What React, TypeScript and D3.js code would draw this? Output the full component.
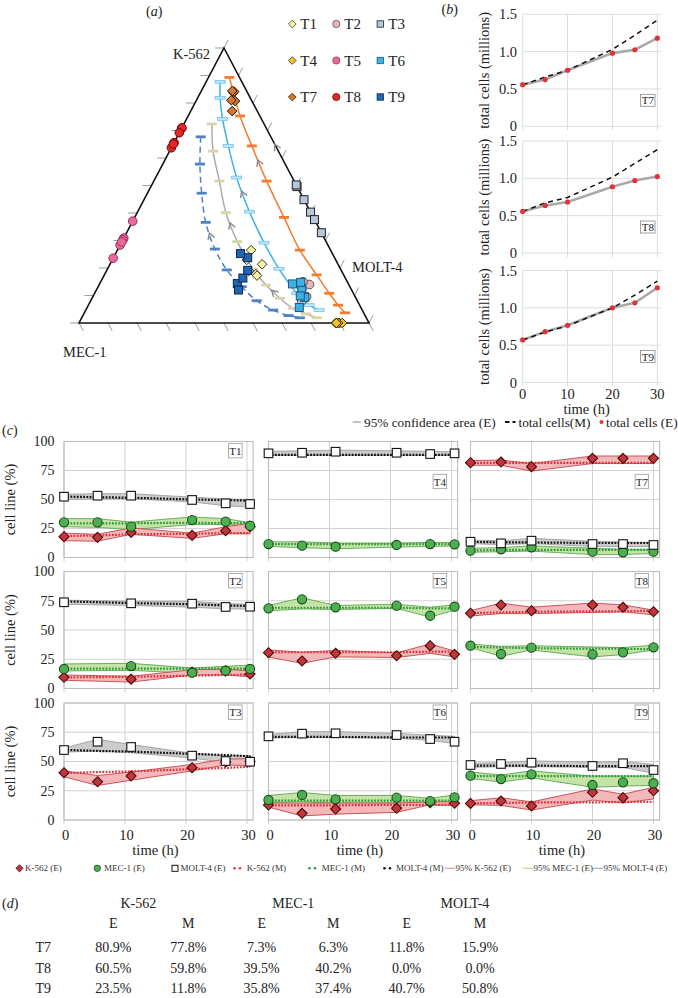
import React from 'react';
import * as d3 from 'd3';

const FONT = "'Liberation Serif', serif";

// ================= Panel (a): ternary =================
const APEX_LABELS = ['K-562', 'MOLT-4', 'MEC-1'];
const TERN_DIVS = d3.range(0, 11);
const EXP_NAMES = ['T1', 'T2', 'T3', 'T4', 'T5', 'T6', 'T7', 'T8', 'T9'];

// model trajectories: [K-562 fraction, MOLT-4 fraction] (MEC-1 = rest)
const MODEL_ORANGE = [[0.893, 0.072], [0.753, 0.179], [0.644, 0.274], [0.516, 0.389], [0.384, 0.515], [0.265, 0.629], [0.175, 0.732], [0.108, 0.809], [0.065, 0.861], [0.037, 0.899]];
const MODEL_CYAN = [[0.877, 0.048], [0.819, 0.077], [0.742, 0.124], [0.644, 0.193], [0.529, 0.279], [0.405, 0.385], [0.292, 0.492], [0.197, 0.591], [0.108, 0.697], [0.065, 0.761], [0.047, 0.805]];
const MODEL_GREY = [[0.724, 0.096], [0.625, 0.15], [0.516, 0.226], [0.401, 0.306], [0.296, 0.398], [0.195, 0.503], [0.138, 0.576], [0.09, 0.648], [0.053, 0.712], [0.033, 0.767], [0.019, 0.81]];
const MODEL_BLUE = [[0.677, 0.081], [0.578, 0.128], [0.472, 0.187], [0.366, 0.254], [0.269, 0.334], [0.193, 0.413], [0.132, 0.495], [0.081, 0.572], [0.047, 0.646], [0.027, 0.709], [0.019, 0.752]];
// direction arrows: [model index, segment index, fraction]
const MODEL_ARROWS = [[0, 2, 0.4], [1, 4, 0.4], [2, 3, 0.35], [2, 6, 0.4], [3, 3, 0.4]];
const EDGE_ARROW = [0.65, 0.35];

// ================= Panel (b): total cells =================
const TIME_B = [0, 5, 10, 20, 25, 30];
const TOT_T7_E = [0.558, 0.626, 0.751, 0.98, 1.025, 1.18];
const TOT_T7_M = [0.555, 0.66, 0.75, 1.03, 1.22, 1.42];
const TOT_T8_E = [0.557, 0.637, 0.683, 0.887, 0.971, 1.024];
const TOT_T8_M = [0.557, 0.67, 0.744, 1.016, 1.2, 1.384];
const TOT_T9_E = [0.57, 0.681, 0.766, 1.0, 1.067, 1.269];
const TOT_T9_M = [0.57, 0.675, 0.76, 1.0, 1.17, 1.357];
const B_YTICKS = [0, 0.5, 1.0, 1.5];
const B_XTICKS = [0, 10, 20, 30];

// ================= Panel (c): cell line percentages =================
const TIME_A = [0, 5.5, 11, 21, 26.5, 30.5];
const TIME_A2 = [0, 11, 21, 26.5, 30.5];
const C_YTICKS = [0, 25, 50, 75, 100];
const C_XTICKS = [0, 10, 20, 30];

const T1_K = { e: [17.9, 17.4, 21.7, 19.1, 23.1, 26.5], lo: [14.5, 14, 20, 16.5, 20.5, 20.5], hi: [21, 20, 25.5, 21, 26.5, 29.5], m: [18.5, 19, 20, 20.5, 21, 21] };
const T1_MEC = { e: [30.3, 30.3, 26.6, 32.3, 30.9, 27.4], lo: [26.5, 26, 24, 28.5, 28.5, 27], hi: [33.5, 33.5, 30.5, 35, 33.5, 30], m: [29.5, 29.5, 29.5, 30, 29.5, 30] };
const T1_MOLT = { e: [52.4, 53.3, 53.3, 49.6, 46.7, 46.1], lo: [50, 50.5, 50.5, 48, 44.5, 43.5], hi: [54.5, 55, 55, 52, 50.5, 50], m: [52.5, 52, 51.5, 50, 49.5, 49] };

const T2_K = { e: [9.6, 8, 14, 15, 12.4], lo: [7, 5.5, 11.5, 11.5, 10], hi: [11.5, 10.5, 16, 16.5, 15], m: [9.5, 10, 11, 11.5, 12] };
const T2_MEC = { e: [16.7, 19.2, 13.5, 15.2, 16.7], lo: [15, 15.5, 13, 14.5, 15], hi: [21, 21.5, 17.5, 19, 20], m: [17, 17, 17, 17, 17] };
const T2_MOLT = { e: [73.7, 72.8, 72.5, 69.7, 69.9], lo: [72, 71, 69.5, 68, 68], hi: [75.5, 74.5, 74.5, 72.5, 72], m: [74.5, 73, 72, 71, 70.5] };

const T3_K = { e: [40.4, 32.7, 37.6, 44.7, 49.6, 50.2], lo: [37, 29.5, 34, 42, 47, 46.5], hi: [42, 38, 41, 47.5, 52, 52.5], m: [40, 41, 41.5, 43.5, 44.5, 45.5] };
const T3_MOLT = { e: [59.8, 66.9, 62.4, 55, 50.4, 49.8], lo: [58, 59, 57.5, 53, 49, 48], hi: [61.5, 69, 64.5, 57, 55, 55], m: [60, 59, 58.5, 56.5, 55.5, 54.5] };

const T4_MEC = { e: [11.6, 10.2, 9.3, 10.8, 11.6, 11.4], lo: [9.5, 8.5, 7.5, 9, 9.5, 10], hi: [13.5, 13.5, 12.5, 12.5, 13, 13], m: [11.5, 11.5, 11.5, 11.5, 11.5, 11.5] };
const T4_MOLT = { e: [89.8, 90.3, 91.2, 90.3, 89.2, 89.8], lo: [88, 88, 88, 88, 88, 88], hi: [91.5, 92, 92.5, 92, 91.5, 91], m: [88.5, 88.5, 88.5, 88.5, 88.5, 88.5] };

const T5_K = { e: [30.6, 23.5, 30.1, 28, 36.6, 29.2], lo: [27, 21.5, 27, 26.5, 30, 27], hi: [33, 31, 32.5, 30.5, 38, 32], m: [31, 31, 31, 31, 31.5, 31.5] };
const T5_MEC = { e: [68.5, 76.2, 69.4, 70.8, 62.2, 69.9], lo: [66.5, 68, 67.5, 68.5, 61, 67], hi: [71, 77.5, 71, 72, 69.5, 71.5], m: [69, 69, 69, 69, 68.5, 68.5] };

const T6_K = { e: [12.8, 5.7, 9.4, 10, 14.8, 14.3], lo: [11, 3.5, 5, 6.5, 13, 12.5], hi: [14.5, 14.5, 14.5, 14.5, 15.5, 15.5], m: [12.5, 12.5, 12.5, 13, 13, 13] };
const T6_MEC = { e: [17.1, 21.4, 17.7, 19.1, 16.2, 19.4], lo: [15, 15.5, 14.5, 14.5, 14.5, 14.5], hi: [21, 23.5, 21, 21, 18.5, 21.5], m: [16.5, 16.5, 16.5, 16.5, 16.5, 16.5] };
const T6_MOLT = { e: [71.5, 73.8, 74.1, 72.6, 69.2, 66.9], lo: [70, 70.5, 70.5, 70, 68, 65.5], hi: [73, 75.5, 75.5, 74, 72.5, 71.5], m: [71, 71, 71, 70.5, 70.5, 70.5] };

const T7_K = { e: [81.7, 82.3, 78.3, 85.5, 85.5, 85.5], lo: [79.5, 79.5, 74.5, 81, 81, 81], hi: [83.5, 84, 81, 87.5, 87.5, 87.5], m: [81.5, 81.5, 81.5, 81.5, 81.5, 81.5] };
const T7_MEC = { e: [5.9, 7.1, 8.8, 5, 4.5, 5], lo: [4.5, 5, 5.5, 2.5, 2.5, 3.5], hi: [8, 8.5, 10, 8, 7, 7], m: [6, 6.5, 6.5, 6.5, 6.5, 6.5] };
const T7_MOLT = { e: [13.6, 12.2, 14.5, 11.6, 11.6, 10.8], lo: [12, 11, 12, 9.5, 9.5, 9.5], hi: [15, 14.5, 16.5, 14, 13.5, 13], m: [13.5, 13, 13, 12.5, 12.5, 12.5] };

const T8_K = { e: [64.3, 71.4, 66.5, 71.4, 69.4, 65.6], lo: [62, 64, 64, 65, 65.5, 63], hi: [66.5, 73, 69.5, 73, 71.5, 67], m: [64.5, 65, 65.5, 66, 66, 66.5] };
const T8_MEC = { e: [36.6, 29.5, 34.9, 29.2, 30.9, 35.2], lo: [35, 27.5, 33, 27, 29, 33], hi: [38, 36, 36.5, 35.5, 35, 37], m: [35.5, 35, 34.5, 34, 34, 33.5] };

const T9_K = { e: [14.2, 16.2, 12, 23.7, 19.1, 25], lo: [13, 12.5, 8.5, 17, 14.5, 18], hi: [16.5, 19, 15.5, 26.5, 22, 28], m: [14.5, 14.5, 15, 15, 15.5, 15.5] };
const T9_MEC = { e: [37.9, 35, 39, 29.9, 32.2, 31.4], lo: [35.5, 32.5, 36, 28, 29, 29.5], hi: [41, 38.5, 42, 37.5, 37.5, 37.5], m: [37.5, 37.5, 37.5, 37.5, 37.5, 37.5] };
const T9_MOLT = { e: [47, 47.9, 49, 46.2, 48.5, 42.7], lo: [45, 45.5, 45.5, 45, 45, 40], hi: [48.5, 49, 50.5, 49.5, 50, 47.5], m: [46.5, 46.5, 46.5, 46, 46, 46] };

// ================= Panel (d): table =================
const D_LINES = ['K-562', 'MEC-1', 'MOLT-4'];
const D_SUB = ['E', 'M'];
const D_ROWS = ['T7', 'T8', 'T9'];
const D_T7 = ['80.9%', '77.8%', '7.3%', '6.3%', '11.8%', '15.9%'];
const D_T8 = ['60.5%', '59.8%', '39.5%', '40.2%', '0.0%', '0.0%'];
const D_T9 = ['23.5%', '11.8%', '35.8%', '37.4%', '40.7%', '50.8%'];

// ---------- experiments assembled ----------
const EXPS = [
  { name: 'T1', t: TIME_A, k: T1_K, mec: T1_MEC, molt: T1_MOLT, col: 0, row: 0, low: false },
  { name: 'T2', t: TIME_A2, k: T2_K, mec: T2_MEC, molt: T2_MOLT, col: 0, row: 1, low: false },
  { name: 'T3', t: TIME_A, k: T3_K, mec: null, molt: T3_MOLT, col: 0, row: 2, low: false },
  { name: 'T4', t: TIME_A, k: null, mec: T4_MEC, molt: T4_MOLT, col: 1, row: 0, low: true },
  { name: 'T5', t: TIME_A, k: T5_K, mec: T5_MEC, molt: null, col: 1, row: 1, low: false },
  { name: 'T6', t: TIME_A, k: T6_K, mec: T6_MEC, molt: T6_MOLT, col: 1, row: 2, low: false },
  { name: 'T7', t: TIME_B, k: T7_K, mec: T7_MEC, molt: T7_MOLT, col: 2, row: 0, low: true },
  { name: 'T8', t: TIME_B, k: T8_K, mec: T8_MEC, molt: null, col: 2, row: 1, low: false },
  { name: 'T9', t: TIME_B, k: T9_K, mec: T9_MEC, molt: T9_MOLT, col: 2, row: 2, low: false },
];

// ---------- styles ----------
const EXP_STYLE = [
  { shape: 'diamond', fill: '#f5f0a4', stroke: '#3a3a2a' },
  { shape: 'circle', fill: '#e7b6b8', stroke: '#6a4a4a' },
  { shape: 'square', fill: '#b6c6db', stroke: '#222' },
  { shape: 'diamond', fill: '#f3c22f', stroke: '#3a3010' },
  { shape: 'circle', fill: '#e8699b', stroke: '#a02a5a' },
  { shape: 'square', fill: '#3eb0e3', stroke: '#145a85' },
  { shape: 'diamond', fill: '#d8782c', stroke: '#2a1505' },
  { shape: 'circle', fill: '#e2282b', stroke: '#6a0808' },
  { shape: 'square', fill: '#1f67b1', stroke: '#0a2850' },
];
const MODEL_STYLE = [
  { line: '#ef7d30', dash: null, tickFill: '#ef7d30', tickStroke: 'none' },
  { line: '#3db3e6', dash: null, tickFill: '#c4e6f7', tickStroke: '#6cc3ec' },
  { line: '#ababab', dash: null, tickFill: '#d8d5ab', tickStroke: 'none' },
  { line: '#4b82c8', dash: '6 4', tickFill: '#4b82c8', tickStroke: 'none' },
];
const C_COLORS = {
  k: { fill: '#c1353c', stroke: '#4a0c0c', band: '#f3b8b9', bandStroke: '#c5454c', dot: '#e0323a' },
  mec: { fill: '#4cb050', stroke: '#1b4a1b', band: '#c6e3a7', bandStroke: '#5aa84c', dot: '#2b9d3b' },
  molt: { fill: '#ffffff', stroke: '#111', band: '#cccccc', bandStroke: '#9e9e9e', dot: '#111' },
};

// ---------- geometry helpers ----------
const TOP = [224, 48];
const BL = [79, 323];
const BR = [369, 323];
const tern = (k: number, m: number): [number, number] => [
  BL[0] + k * (TOP[0] - BL[0]) + m * (BR[0] - BL[0]),
  BL[1] + k * (TOP[1] - BL[1]) + m * (BR[1] - BL[1]),
];
const unit = (a: number[], b: number[]) => {
  const dx = b[0] - a[0], dy = b[1] - a[1];
  const l = Math.hypot(dx, dy);
  return [dx / l, dy / l];
};

function marker(shape: string, cx: number, cy: number, s: number, fill: string, stroke: string, sw = 1, key?: any) {
  if (shape === 'circle') return <circle key={key} cx={cx} cy={cy} r={s} fill={fill} stroke={stroke} strokeWidth={sw} />;
  if (shape === 'square') return <rect key={key} x={cx - s} y={cy - s} width={2 * s} height={2 * s} fill={fill} stroke={stroke} strokeWidth={sw} />;
  const p = `M${cx},${cy - s * 1.2}L${cx + s * 1.2},${cy}L${cx},${cy + s * 1.2}L${cx - s * 1.2},${cy}Z`;
  return <path key={key} d={p} fill={fill} stroke={stroke} strokeWidth={sw} />;
}

const TS = { fontFamily: FONT };

function PanelLabel({ x, y, letter }: any) {
  return (
    <text x={x} y={y} fontSize={14} fill="#222" style={TS}>
      (<tspan fontStyle="italic">{letter}</tspan>)
    </text>
  );
}

// ================= Panel A =================
function PanelA() {
  const dirR = unit(BL, TOP);
  const dirB = unit(TOP, BR);
  const tl = 9;
  const line = d3.line().curve(d3.curveCatmullRom.alpha(0.5));
  const models = [MODEL_ORANGE, MODEL_CYAN, MODEL_GREY, MODEL_BLUE];

  const pts: any[] = [];
  EXPS.forEach((ex, i) => {
    ex.t.forEach((_, j) => {
      const k = ex.k ? ex.k.e[j] : 0;
      const me = ex.mec ? ex.mec.e[j] : 0;
      const mo = ex.molt ? ex.molt.e[j] : 0;
      const s = k + me + mo;
      pts.push({ i, p: tern(k / s, mo / s) });
    });
  });

  const chevron = (p: number[], d: number[], key: any) => {
    const len = 7, a = Math.PI / 6;
    const rot = (ang: number) => [-(d[0] * Math.cos(ang) - d[1] * Math.sin(ang)), -(d[0] * Math.sin(ang) + d[1] * Math.cos(ang))];
    const r1 = rot(a), r2 = rot(-a);
    return <path key={key} d={`M${p[0] + r1[0] * len},${p[1] + r1[1] * len}L${p[0]},${p[1]}L${p[0] + r2[0] * len},${p[1] + r2[1] * len}`} fill="none" stroke="#8a8a8a" strokeWidth={1.4} />;
  };

  return (
    <g>
      <PanelLabel x={146} y={16} letter="a" />
      {TERN_DIVS.map((i) => {
        const f = i / 10;
        const pl = tern(f, 0), pr = tern(f, 1 - f), pb = tern(0, f);
        return (
          <g key={i} stroke="#9c9c9c" strokeWidth={1}>
            <line x1={pl[0]} y1={pl[1]} x2={pl[0] - tl} y2={pl[1]} />
            <line x1={pr[0]} y1={pr[1]} x2={pr[0] + dirR[0] * tl} y2={pr[1] + dirR[1] * tl} />
            <line x1={pb[0]} y1={pb[1]} x2={pb[0] + dirB[0] * tl} y2={pb[1] + dirB[1] * tl} />
          </g>
        );
      })}
      <path d={`M${TOP[0]},${TOP[1]}L${BR[0]},${BR[1]}L${BL[0]},${BL[1]}Z`} fill="none" stroke="#111" strokeWidth={1.6} />
      <text x={210} y={59} fontSize={14.5} textAnchor="end" fill="#222" style={TS}>{APEX_LABELS[0]}</text>
      <text x={352} y={272} fontSize={14.5} fill="#222" style={TS}>{APEX_LABELS[1]}</text>
      <text x={63} y={357} fontSize={14.5} fill="#222" style={TS}>{APEX_LABELS[2]}</text>

      {models.map((mdl, mi) => {
        const xy = mdl.map(([k, m]) => tern(k, m));
        const st = MODEL_STYLE[mi];
        return (
          <g key={mi}>
            <path d={line(xy as any) || ''} fill="none" stroke={st.line} strokeWidth={1.5} strokeDasharray={st.dash || undefined} />
            {xy.map((p, j) => (
              <rect key={j} x={p[0] - 5} y={p[1] - 1.4} width={10} height={2.8} fill={st.tickFill} stroke={st.tickStroke} strokeWidth={0.8} />
            ))}
          </g>
        );
      })}
      {MODEL_ARROWS.map(([mi, si, f], idx) => {
        const mdl = models[mi];
        const a = tern(mdl[si][0], mdl[si][1]);
        const b = tern(mdl[si + 1][0], mdl[si + 1][1]);
        const p = [a[0] + (b[0] - a[0]) * f, a[1] + (b[1] - a[1]) * f];
        return chevron(p, unit(b, a), idx);
      })}
      {chevron(tern(EDGE_ARROW[0], EDGE_ARROW[1]), unit(BR, TOP), 'edge')}

      {pts.map((d, j) => {
        const st = EXP_STYLE[d.i];
        return marker(st.shape, d.p[0], d.p[1], st.shape === 'circle' ? 4.3 : 4, st.fill, st.stroke, 1, j);
      })}

      {EXP_NAMES.map((n, i) => {
        const c = i % 3, r = Math.floor(i / 3);
        const mx = 292.3 + c * 44, my = 24 + r * 36.5;
        const st = EXP_STYLE[i];
        return (
          <g key={n}>
            {marker(st.shape, mx, my, st.shape === 'circle' ? 3.6 : 3.2, st.fill, st.stroke, 0.8)}
            <text x={mx + 8} y={my + 5} fontSize={15} fill="#222" style={TS}>{n}</text>
          </g>
        );
      })}
    </g>
  );
}

// ================= Panel B =================
function PanelB() {
  const x = d3.scaleLinear().domain([0, 30]).range([522.7, 657.3]);
  const charts = [
    { name: 'T7', e: TOT_T7_E, m: TOT_T7_M, top: 14.3 },
    { name: 'T8', e: TOT_T8_E, m: TOT_T8_M, top: 141 },
    { name: 'T9', e: TOT_T9_E, m: TOT_T9_M, top: 270.5 },
  ];
  return (
    <g>
      <PanelLabel x={441.5} y={14} letter="b" />
      {charts.map((c, ci) => {
        const y = d3.scaleLinear().domain([0, 1.5]).range([c.top + 112, c.top]);
        const ln = d3.line<number>().x((_, i) => x(TIME_B[i])).y((v) => y(v));
        return (
          <g key={c.name}>
            {B_YTICKS.map((v) => (
              <g key={v}>
                <line x1={x(0)} x2={x(31)} y1={y(v)} y2={y(v)} stroke="#dcdcdc" strokeWidth={1} />
                <text x={517} y={y(v) + 5} fontSize={14.5} textAnchor="end" fill="#222" style={TS}>{v === 0 ? '0' : v.toFixed(1)}</text>
              </g>
            ))}
            {B_XTICKS.map((v) => (
              <line key={v} x1={x(v)} x2={x(v)} y1={y(1.5)} y2={y(0) + 4} stroke="#dcdcdc" strokeWidth={1} />
            ))}
            <text transform={`translate(489,${c.top + 56}) rotate(-90)`} fontSize={14.5} textAnchor="middle" fill="#222" style={TS}>total cells (millions)</text>
            <path d={ln(c.e) || ''} fill="none" stroke="#a9a9a9" strokeWidth={2.6} />
            <path d={ln(c.m) || ''} fill="none" stroke="#111" strokeWidth={1.5} strokeDasharray="5 4" />
            {c.e.map((v, i) => (
              <circle key={i} cx={x(TIME_B[i])} cy={y(v)} r={2.6} fill="#e3303a" />
            ))}
            <rect x={640.5} y={c.top + 80} width={14.5} height={12} fill="#fff" stroke="#8a8a8a" strokeWidth={0.8} />
            <text x={647.8} y={c.top + 90} fontSize={11} textAnchor="middle" fill="#222" style={TS}>{c.name}</text>
            {ci === 2 && B_XTICKS.map((v) => (
              <text key={v} x={x(v)} y={399} fontSize={14.5} textAnchor="middle" fill="#222" style={TS}>{v}</text>
            ))}
          </g>
        );
      })}
      <text x={586.7} y={414} fontSize={14.5} textAnchor="middle" fill="#222" style={TS}>time (h)</text>
      <line x1={352.7} x2={360.7} y1={422} y2={422} stroke="#9a9a9a" strokeWidth={1.2} />
      <text x={364} y={426.5} fontSize={13.3} fill="#222" style={TS}>95% confidence area (E)</text>
      <line x1={505} x2={509.5} y1={422} y2={422} stroke="#111" strokeWidth={2} />
      <line x1={512.5} x2={515.5} y1={422} y2={422} stroke="#111" strokeWidth={2} />
      <text x={518.5} y={426.5} fontSize={13.3} fill="#222" style={TS}>total cells(M)</text>
      <circle cx={601.5} cy={422} r={2} fill="#e3303a" />
      <text x={606} y={426.5} fontSize={13.3} fill="#222" style={TS}>total cells (E)</text>
    </g>
  );
}

// ================= Panel C =================
const C_COL_X0 = [64, 268.5, 470.5];
const C_COL_W = 183;
const C_ROW_Y0 = [557.5, 688.5, 820];
const C_ROW_Y100 = [441.5, 571.5, 703];

function SmallPanel({ ex }: any) {
  const x = d3.scaleLinear().domain([0, 30]).range([C_COL_X0[ex.col], C_COL_X0[ex.col] + C_COL_W]);
  const y = d3.scaleLinear().domain([0, 100]).range([C_ROW_Y0[ex.row], C_ROW_Y100[ex.row]]);
  const t = ex.t;
  const area = d3.area<number>().x((_, i) => x(t[i]));
  const ln = d3.line<number>().x((_, i) => x(t[i])).y((v) => y(v));
  const series = [
    { key: 'molt', d: ex.molt, shape: 'square' },
    { key: 'mec', d: ex.mec, shape: 'circle' },
    { key: 'k', d: ex.k, shape: 'diamond' },
  ].filter((s) => s.d);
  const xr = x(31);
  const boxCy = ex.low ? y(100) + 40 : y(100) + 9.2;
  return (
    <g>
      {C_YTICKS.map((v) => (
        <line key={'h' + v} x1={x(0)} x2={xr} y1={y(v)} y2={y(v)} stroke="#d2d2d2" strokeWidth={1} />
      ))}
      {C_XTICKS.map((v) => (
        <line key={'v' + v} x1={x(v)} x2={x(v)} y1={y(100)} y2={y(0) + 4} stroke="#d2d2d2" strokeWidth={1} />
      ))}
      <rect x={x(0)} y={y(100)} width={xr - x(0)} height={y(0) - y(100)} fill="none" stroke="#bdbdbd" strokeWidth={1.1} />
      {series.map((s) => {
        const c = (C_COLORS as any)[s.key];
        const a = area.y0((_, i) => y(s.d.lo[i])).y1((_, i) => y(s.d.hi[i]));
        return <path key={'b' + s.key} d={a(s.d.e) || ''} fill={c.band} stroke={c.bandStroke} strokeWidth={0.9} />;
      })}
      {series.map((s) => {
        const c = (C_COLORS as any)[s.key];
        return <path key={'m' + s.key} d={ln(s.d.m) || ''} fill="none" stroke={c.dot} strokeWidth={2.2} strokeDasharray="1.8 1.4" />;
      })}
      {series.slice().reverse().map((s) => {
        const c = (C_COLORS as any)[s.key];
        return (
          <g key={'p' + s.key}>
            {s.d.e.map((v: number, i: number) =>
              marker(s.shape, x(t[i]), y(v), s.shape === 'circle' ? 4.6 : s.shape === 'square' ? 4.3 : 4.2, c.fill, c.stroke, 1.1, i)
            )}
          </g>
        );
      })}
      <rect x={xr - 11 - 13.5} y={boxCy - 7.2} width={13.5} height={14.4} fill="#fff" stroke="#9a9a9a" strokeWidth={0.8} />
      <text x={xr - 11 - 6.75} y={boxCy + 4} fontSize={11} textAnchor="middle" fill="#222" style={TS}>{ex.name}</text>
      {ex.col === 0 && C_YTICKS.map((v) => (
        <text key={'yl' + v} x={54.5} y={y(v) + 4.8} fontSize={14} textAnchor="end" fill="#222" style={TS}>{v}</text>
      ))}
      {ex.col === 0 && (
        <text transform={`translate(15,${(y(0) + y(100)) / 2}) rotate(-90)`} fontSize={14.5} textAnchor="middle" fill="#222" style={TS}>cell line (%)</text>
      )}
      {ex.row === 2 && C_XTICKS.map((v) => (
        <text key={'xl' + v} x={x(v) + 1.5} y={840} fontSize={14.5} textAnchor="middle" fill="#222" style={TS}>{v}</text>
      ))}
      {ex.row === 2 && (
        <text x={x(15)} y={854.5} fontSize={14.5} textAnchor="middle" fill="#222" style={TS}>time (h)</text>
      )}
    </g>
  );
}

function PanelC() {
  const ly = 868.3;
  const tx = { fontSize: 9, fill: '#333', style: TS };
  return (
    <g>
      <PanelLabel x={2} y={434.5} letter="c" />
      {EXPS.map((ex) => <SmallPanel key={ex.name} ex={ex} />)}
      {marker('diamond', 19.5, ly, 3, C_COLORS.k.fill, C_COLORS.k.stroke, 0.8)}
      <text x={25} y={ly + 3} {...tx}>K-562 (E)</text>
      {marker('circle', 97.3, ly, 3.2, C_COLORS.mec.fill, C_COLORS.mec.stroke, 0.8)}
      <text x={104} y={ly + 3} {...tx}>MEC-1 (E)</text>
      {marker('square', 175, ly, 3, '#fff', '#111', 1)}
      <text x={180.5} y={ly + 3} {...tx}>MOLT-4 (E)</text>
      {[[234.5, 'k', 'K-562 (M)', 246.7], [309.5, 'mec', 'MEC-1 (M)', 321.7], [384.5, 'molt', 'MOLT-4 (M)', 396]].map(([dx, key, label, txx]: any) => (
        <g key={key}>
          <circle cx={dx} cy={ly} r={1.3} fill={(C_COLORS as any)[key].dot} />
          <circle cx={dx + 5.5} cy={ly} r={1.3} fill={(C_COLORS as any)[key].dot} />
          <text x={txx} y={ly + 3} {...tx}>{label}</text>
        </g>
      ))}
      {[[445, '#e39a9c', '95% K-562 (E)'], [523, '#b5d58e', '95% MEC-1 (E)'], [593, '#b0b0b0', '95% MOLT-4 (E)']].map(([lx, col, label]: any) => (
        <g key={label}>
          <line x1={lx} x2={lx + 10} y1={ly} y2={ly} stroke={col} strokeWidth={1.2} />
          <text x={lx + 10.5} y={ly + 3} {...tx}>{label}</text>
        </g>
      ))}
    </g>
  );
}

// ================= Panel D =================
function PanelD() {
  const headX = [138.3, 293.3, 465];
  const colX = [113.3, 188.3, 261.7, 333.3, 406.7, 480];
  const rowsY = [951.5, 973, 993];
  const rows = [D_T7, D_T8, D_T9];
  return (
    <g fontSize={14} fill="#222" style={TS}>
      <PanelLabel x={2} y={908} letter="d" />
      {D_LINES.map((l, i) => (
        <text key={l} x={headX[i]} y={908} textAnchor="middle" style={TS}>{l}</text>
      ))}
      {colX.map((cx, i) => (
        <text key={i} x={cx} y={928} textAnchor="middle" style={TS}>{D_SUB[i % 2]}</text>
      ))}
      {D_ROWS.map((r, ri) => (
        <g key={r}>
          <text x={43.3} y={rowsY[ri]} textAnchor="middle" style={TS}>{r}</text>
          {rows[ri].map((v, ci) => (
            <text key={ci} x={colX[ci]} y={rowsY[ri]} textAnchor="middle" style={TS}>{v}</text>
          ))}
        </g>
      ))}
    </g>
  );
}

export default function App() {
  return (
    <svg
      width={678}
      height={998}
      viewBox="0 0 678 998"
      style={{ position: 'absolute', left: 0, top: 0, background: '#fff', fontFamily: FONT }}
    >
      <rect x={0} y={0} width={678} height={998} fill="#fff" />
      <PanelA />
      <PanelB />
      <PanelC />
      <PanelD />
    </svg>
  );
}
